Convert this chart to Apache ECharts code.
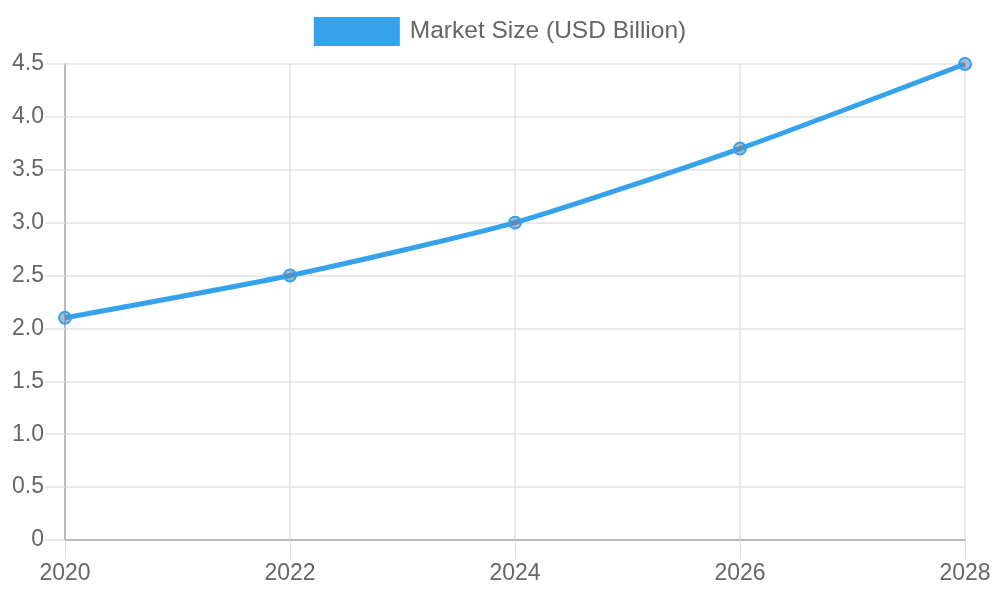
<!DOCTYPE html>
<html>
<head>
  <meta charset="UTF-8">
  <title>Market Size</title>
  <script src="https://cdn.jsdelivr.net/npm/echarts@6.0.0/dist/echarts.min.js"></script>
  <style>
    html, body { margin: 0; padding: 0; background: #fff; }
    #main { width: 1000px; height: 600px; }
  </style>
</head>
<body>
  <div id="main"></div>
  <script>
    // chart data
    var years = ['2020', '2022', '2024', '2026', '2028'];
    var marketSize = [2.1, 2.5, 3.0, 3.7, 4.5];
    var seriesName = 'Market Size (USD Billion)';

    var chart = echarts.init(document.getElementById('main'));
    var font = 'Liberation Sans, Arial, sans-serif';

    var option = {
      animation: false,
      textStyle: { fontFamily: font },
      legend: {
        top: 12,
        left: 'center',
        itemWidth: 86,
        itemHeight: 29,
        itemGap: 10,
        icon: 'rect',
        textStyle: { fontSize: 24.5, color: '#666', fontFamily: font, padding: [2, 0, 0, 5] },
        data: [{ name: seriesName, itemStyle: { color: '#36A2EB', borderWidth: 0 } }]
      },
      grid: { left: 65, right: 35, top: 64, bottom: 60, containLabel: false },
      xAxis: {
        type: 'category',
        data: years,
        boundaryGap: false,
        axisLine: { lineStyle: { color: '#aaa', width: 1.5 } },
        axisTick: { show: true, length: 19, lineStyle: { color: '#ddd' } },
        axisLabel: { fontSize: 23, color: '#666', margin: 22, fontFamily: font },
        splitLine: { show: true, lineStyle: { color: '#e2e2e2', width: 1.5 } }
      },
      yAxis: {
        type: 'value',
        min: 0,
        max: 4.5,
        interval: 0.5,
        axisLine: { show: true, lineStyle: { color: '#aaa', width: 1.5 } },
        axisTick: { show: true, length: 20, lineStyle: { color: '#e2e2e2', width: 1.5 } },
        axisLabel: {
          fontSize: 23, color: '#666', margin: 21, fontFamily: font,
          formatter: function (v) { return v === 0 ? '0' : v.toFixed(1); }
        },
        splitLine: { show: true, lineStyle: { color: '#e2e2e2', width: 1.5 } }
      },
      series: [{
        name: seriesName,
        type: 'line',
        data: marketSize,
        smooth: 0.2,
        symbol: 'circle',
        symbolSize: 12,
        lineStyle: { color: '#36A2EB', width: 5 },
        itemStyle: { color: 'rgba(100,130,170,0.55)', borderColor: '#36A2EB', borderWidth: 2 }
      }]
    };

    chart.setOption(option);
  </script>
</body>
</html>
